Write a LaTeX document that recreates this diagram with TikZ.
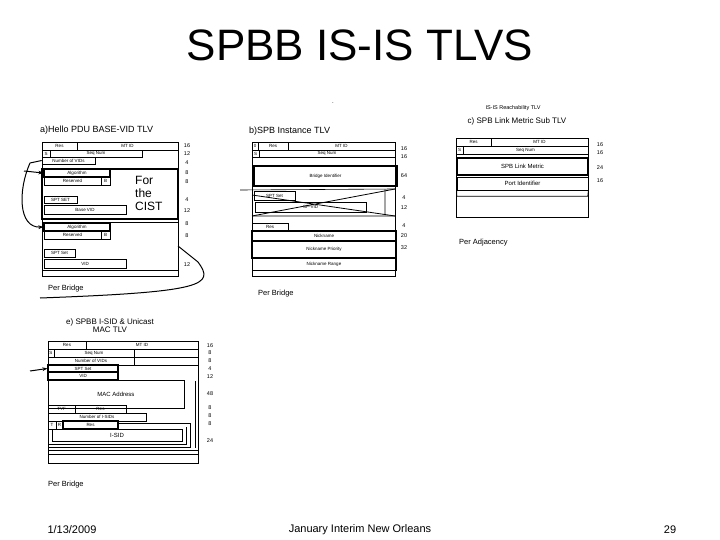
\documentclass[tikz,border=0pt]{standalone}
\usepackage{fontspec}
\setmainfont{Liberation Sans}
\usetikzlibrary{arrows.meta}
\newcommand\fld[7][]{\node[fld,#1,minimum width={(#5-#3)*1pt},minimum height={(#6-#4)*1pt}] (#2) at ({(#3+#5)/2},{(#4+#6)/2}) {#7};}
\newcommand\nm[4]{\node[numf] (#1) at (#2,#3) {#4};}
\tikzset{
 fld/.style={draw,line width=0.6pt,inner sep=0pt,font=\fontsize{4.5}{4.5}\selectfont},
 thk/.style={line width=1.2pt},
 numf/.style={inner sep=0pt,font=\fontsize{5.5}{5.5}\selectfont},
 ttl/.style={inner sep=0pt,anchor=west,font=\fontsize{9}{9}\selectfont},
 big/.style={inner sep=0pt,font=\fontsize{12}{13}\selectfont},
 foot/.style={inner sep=0pt,font=\fontsize{11}{11}\selectfont},
 conn/.style={line width=1pt,-{Stealth[length=5pt]}}
}
\begin{document}
\begin{tikzpicture}[x=1pt,y=-1pt]
\useasboundingbox (0,0) rectangle (720,540);
\node[inner sep=0pt,font=\fontsize{44}{44}\selectfont] (title) at (360,45) {SPBB IS-IS TLVS};
% ---------- a
\node[ttl] (ta) at (40,130) {a)Hello PDU BASE-VID TLV};
\fld{aout}{42}{142}{178}{276}{}
\fld{ares}{42}{142}{77}{150}{Res}
\fld{amt}{77}{142}{178}{150}{MT ID}
\fld{as}{42}{150}{50}{157}{S}
\fld{aseq}{50}{150}{142}{157}{Seq Num}
\fld{anv}{42}{157}{95}{164}{Number of VIDs}
\fld[thk]{acist}{42}{169}{178}{219}{}
\fld[thk]{aalg1}{44}{169}{110}{177}{Algorithm}
\fld{ares1}{44}{177}{101}{185}{Reserved}
\fld{ab1}{101}{177}{110}{185}{B}
\fld{aspt1}{44}{196}{77}{203}{SPT SET}
\fld{abv}{44}{205}{126}{214}{Base VID}
\node[big,align=left,anchor=west] (forcist) at (135,193) {For\\the\\CIST};
\fld{agrp2}{42}{222}{178}{270}{}
\fld[thk]{aalg2}{44}{223}{110}{231}{Algorithm}
\fld{ares2}{44}{231}{101}{239}{Reserved}
\fld{ab2}{101}{231}{110}{239}{B}
\fld{aspt2}{44}{249}{75}{257}{SPT Set}
\fld{avid}{44}{259}{126}{268}{VID}
\nm{na1}{187}{146}{16}\nm{na2}{187}{154}{12}\nm{na3}{187}{163}{4}
\nm{na4}{187}{173}{8}\nm{na5}{187}{182}{8}\nm{na6}{187}{200}{4}
\nm{na7}{187}{211}{12}\nm{na8}{187}{224}{8}\nm{na9}{187}{236}{8}\nm{na10}{187}{265}{12}
\node[anchor=west,inner sep=0pt,font=\fontsize{7.5}{7.5}\selectfont] (pba) at (48,289) {Per Bridge};
\coordinate (ca) at (30,163);
\draw[line width=1pt] (anv.west) -- (ca);
\draw[conn] (ca) .. controls (18,190) and (18,228) .. (aalg2.west);
\draw[conn] (24,171) -- (aalg1.west);
\coordinate (cb) at (40,298);
\draw[line width=1pt] (178,246) -- (198,262) .. controls (215,285) and (205,292) .. (cb);
% ---------- b
\node[inner sep=0pt,font=\fontsize{6}{6}\selectfont] (dot) at (333,103) {.};
\node[ttl] (tb) at (249,131) {b)SPB Instance TLV};
\fld{bout}{252}{142}{395}{276}{}
\fld{b0}{252}{142}{258}{150}{0}
\fld{bres}{258}{142}{288}{150}{Res}
\fld{bmt}{288}{142}{395}{150}{MT ID}
\fld{bs}{252}{150}{259}{157}{S}
\fld{bseq}{259}{150}{395}{157}{Seq Num}
\fld[thk]{bbid}{254}{166}{397}{186}{Bridge Identifier}
\fld{bspt}{254}{191}{295}{200}{SPT Set}
\fld{bsp}{255}{202}{366}{212}{SP-VID}
\draw[line width=0.6pt] (240,190) -- (395,189) (252,216) -- (395,216) (385,190) -- (385,215);
\draw[line width=0.8pt] (252,195) -- (395,216) (252,216) -- (395,189);
\fld{bres2}{252}{223}{288}{230}{Res}
\fld[thk]{bnick}{252}{231}{396}{241}{Nickname}
\fld[thk]{bprio}{252}{241}{396}{258}{Nickname Priority}
\fld{brange}{252}{258}{396}{270}{Nickname Range}
\nm{nb1}{404}{149}{16}\nm{nb2}{404}{157}{16}\nm{nb3}{404}{176}{64}
\nm{nb4}{404}{198}{4}\nm{nb5}{404}{208}{12}\nm{nb6}{404}{226}{4}
\nm{nb7}{404}{236}{20}\nm{nb8}{404}{248}{32}
\node[anchor=west,inner sep=0pt,font=\fontsize{7.5}{7.5}\selectfont] (pbb) at (258,294) {Per Bridge};
% ---------- c
\node[inner sep=0pt,font=\fontsize{5.5}{5.5}\selectfont] (tc0) at (513,108) {IS-IS Reachability TLV};
\node[inner sep=0pt,font=\fontsize{8}{8}\selectfont] (tc) at (517,121) {c) SPB Link Metric Sub TLV};
\fld{cout}{456}{138}{588}{217}{}
\fld{cres}{456}{138}{491}{146}{Res}
\fld{cmt}{491}{138}{588}{146}{MT ID}
\fld{cs}{456}{146}{463}{154}{S}
\fld{cseq}{463}{146}{588}{154}{Seq Num}
\fld[thk,font=\fontsize{6}{6}\selectfont]{clm}{457}{158}{588}{175}{SPB Link Metric}
\fld[font=\fontsize{6}{6}\selectfont]{cpid}{457}{177}{588}{190}{Port Identifier}
\draw[line width=0.6pt] (cpid.south west) -- ++(0,6) -- ++(131,0) -- (cpid.south east);
\nm{nc1}{600}{145}{16}\nm{nc2}{600}{153}{16}\nm{nc3}{600}{168}{24}\nm{nc4}{600}{181}{16}
\node[anchor=west,inner sep=0pt,font=\fontsize{7.5}{7.5}\selectfont] (pa) at (459,243) {Per Adjacency};
% ---------- e
\node[inner sep=0pt,font=\fontsize{8}{8}\selectfont,align=center] (te) at (110,326) {e) SPBB I-SID \& Unicast\\MAC TLV};
\fld{eout}{48}{341}{198}{463}{}
\fld{eres}{48}{341}{86}{349}{Res}
\fld{emt}{86}{341}{198}{349}{MT ID}
\fld{es}{48}{349}{54}{357}{S}
\fld{eseq}{54}{349}{134}{357}{Seq Num}
\fld{env}{48}{357}{134}{365}{Number of VIDs}
\fld[thk]{espt}{48}{365}{118}{372}{SPT Set}
\fld[thk]{evid}{48}{372}{118}{380}{VID}
\draw[line width=0.6pt] (134,357) -- (198,357) (118,365) -- (198,365);
\draw[line width=1pt] (195,381) -- (195,448);
\fld[font=\fontsize{6}{6}\selectfont]{emac}{48}{380}{184}{408}{MAC Address}
\fld{etyf}{48}{405}{75}{413}{TYF}
\fld{eres2}{75}{405}{126}{413}{Res}
\fld{enis}{48}{413}{146}{421}{Number of I-SIDs}
\fld{et}{48}{421}{56}{429}{T}
\fld{er}{56}{421}{63}{429}{R}
\fld[thk]{eres3}{63}{421}{118}{429}{Res}
\draw[line width=0.6pt] (48,447) -- (190,447) -- (190,423) -- (118,423);
\draw[line width=0.6pt] (48,444) -- (186,444) -- (186,427);
\fld[font=\fontsize{6}{6}\selectfont]{eisid}{52}{429}{182}{441}{I-SID}
\draw[line width=0.6pt] (48,450) -- (198,450) (48,454) -- (198,454);
\nm{ne1}{210}{346}{16}\nm{ne2}{210}{353}{8}\nm{ne3}{210}{361}{8}
\nm{ne4}{210}{369}{4}\nm{ne5}{210}{377}{12}\nm{ne6}{210}{394}{48}
\nm{ne7}{210}{408}{8}\nm{ne8}{210}{416}{8}\nm{ne9}{210}{424}{8}\nm{ne10}{210}{441}{24}
\node[anchor=west,inner sep=0pt,font=\fontsize{7.5}{7.5}\selectfont] (pbe) at (48,485) {Per Bridge};
\draw[conn] (30,371) -- (espt.west);
% ---------- footer
\node[foot] (f1) at (72,530) {1/13/2009};
\node[foot] (f2) at (360,530) {January Interim New Orleans};
\node[foot] (f3) at (670,530) {29};
\end{tikzpicture}
\end{document}
